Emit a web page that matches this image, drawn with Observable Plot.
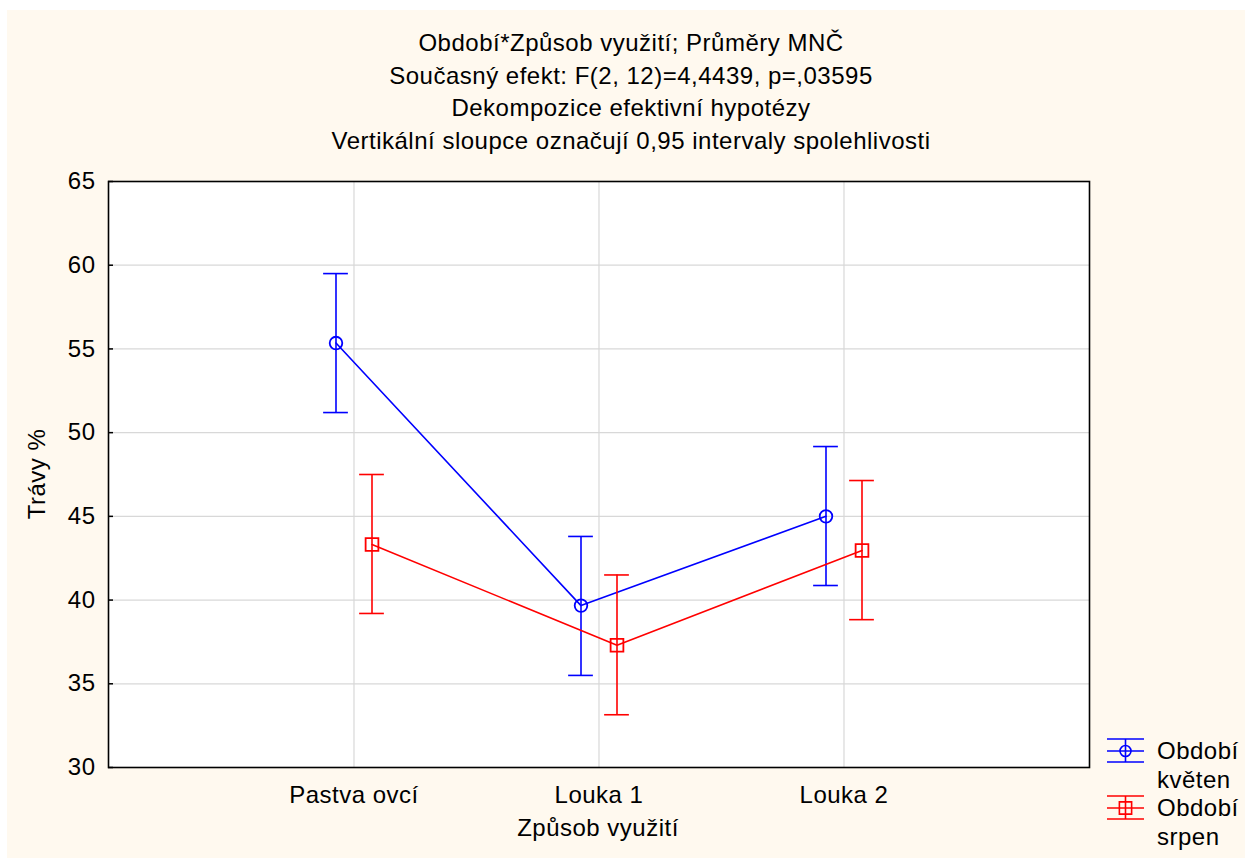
<!DOCTYPE html>
<html><head><meta charset="utf-8">
<script src="https://cdn.jsdelivr.net/npm/d3@7"></script>
<script src="https://cdn.jsdelivr.net/npm/@observablehq/plot@0.6"></script>
<style>
body{margin:0;background:#fff;width:1245px;height:858px;overflow:hidden;position:relative;font-family:"Liberation Sans",Arial,sans-serif;color:#000;letter-spacing:0.5px;}
#bg{position:absolute;left:7px;top:10px;width:1238px;height:848px;background:#fff9ef;}
#title{position:absolute;left:0;top:27px;width:1262px;text-align:center;font-size:24px;line-height:32.7px;}
#chart{position:absolute;left:0;top:160px;}
#ylab{position:absolute;left:37px;top:474px;font-size:24px;white-space:nowrap;transform:translate(-50%,-50%) rotate(-90deg);}
#xlab{position:absolute;left:598px;top:814px;font-size:24px;white-space:nowrap;transform:translateX(-50%);line-height:28px;}
#legsym{position:absolute;left:1104px;top:730px;}
#legtxt{position:absolute;left:1157px;top:737px;font-size:24px;line-height:28.7px;}
</style></head><body>
<div id="bg"></div>
<div id="title"></div>
<div id="chart"></div>
<div id="ylab"></div>
<div id="xlab"></div>
<div id="legsym"></div>
<div id="legtxt"></div>
<script>
const titleLines = ["Období*Způsob využití; Průměry MNČ","Současný efekt: F(2, 12)=4,4439, p=,03595","Dekompozice efektivní hypotézy","Vertikální sloupce označují 0,95 intervaly spolehlivosti"];
const xLabel = "Způsob využití";
const yLabel = "Trávy %";
const categories = ["Pastva ovcí","Louka 1","Louka 2"];
const seriesNames = ["Období květen","Období srpen"];
const legendLines = [["Období","květen"],["Období","srpen"]];
const kvetenMean = [55.35, 39.67, 45.0];
const kvetenLow  = [51.2, 35.5, 40.87];
const kvetenHigh = [59.5, 43.8, 49.17];
const srpenMean = [43.32, 37.3, 42.96];
const srpenLow  = [39.2, 33.15, 38.83];
const srpenHigh = [47.5, 41.5, 47.14];
const yTicks = [30,35,40,45,50,55,60,65];

const rows = (name, m, lo, hi) => categories.map((c,i)=>({cat:c, series:name, mean:m[i], lo:lo[i], hi:hi[i]}));
const data = [
  rows(seriesNames[0], kvetenMean, kvetenLow, kvetenHigh),
  rows(seriesNames[1], srpenMean, srpenLow, srpenHigh)
];
const styles = [
  {color:"#0000ff", dx:-18, symbol:"circle", r:6.3},
  {color:"#ff0000", dx:18, symbol:"square", r:7.2}
];

const W = 1245, H = 698;
const mL = 108, mR = 156, mT = 21, mB = 91;
const step = (W - mL - mR) / 4;
const capInset = (step - 25) / 2;

const seriesMarks = data.flatMap((d, k) => {
  const s = styles[k];
  return [
    Plot.line(d, {x:"cat", y:"mean", stroke:s.color, strokeWidth:1.6, dx:s.dx}),
    Plot.ruleX(d, {x:"cat", y1:"lo", y2:"hi", stroke:s.color, strokeWidth:1.6, dx:s.dx}),
    Plot.tickY(d, {x:"cat", y:"hi", stroke:s.color, strokeWidth:1.6, dx:s.dx, insetLeft:capInset, insetRight:capInset}),
    Plot.tickY(d, {x:"cat", y:"lo", stroke:s.color, strokeWidth:1.6, dx:s.dx, insetLeft:capInset, insetRight:capInset}),
    Plot.dot(d, {x:"cat", y:"mean", stroke:s.color, fill:"none", strokeWidth:1.8, symbol:s.symbol, r:s.r, dx:s.dx})
  ];
});

const chart = Plot.plot({
  width: W, height: H,
  marginLeft: mL, marginRight: mR, marginTop: mT, marginBottom: mB,
  style: {fontSize:"24px", fontFamily:"'Liberation Sans', Arial, sans-serif", background:"transparent", color:"#000", letterSpacing:"0.5px"},
  x: {type:"band", domain: categories, paddingInner: 0, paddingOuter: 0.5, label: null},
  y: {domain: [30, 65], label: null},
  marks: [
    Plot.frame({fill:"white", stroke:null}),
    Plot.gridY(yTicks, {stroke:"#d8d8d8", strokeOpacity:1, strokeWidth:1.2}),
    Plot.gridX({stroke:"#d8d8d8", strokeOpacity:1, strokeWidth:1.2}),
    ...seriesMarks,
    Plot.axisY(yTicks, {tickSize:0, tickPadding:13, fontSize:24, label:null}),
    Plot.axisY(yTicks, {tickSize:5, dx:5, tickFormat:() => "", label:null, strokeWidth:1.5}),
    Plot.axisX({tickSize:0, tickPadding:18, fontSize:24, label:null}),
    Plot.frame({stroke:"#000", strokeWidth:1.6})
  ]
});
document.getElementById("chart").appendChild(chart);

document.getElementById("title").innerHTML = titleLines.join("<br>");
document.getElementById("xlab").textContent = xLabel;
document.getElementById("ylab").textContent = yLabel;
document.getElementById("legtxt").innerHTML = legendLines.map(l => l.join("<br>")).join("<br>");

// legend symbols (HTML-side key, not chart data)
const lsvg = d3.select("#legsym").append("svg").attr("width", 44).attr("height", 100);
styles.forEach((s, k) => {
  const g = lsvg.append("g").attr("transform", `translate(0,${k*57})`).attr("stroke", s.color).attr("stroke-width", 1.6).attr("fill", "none");
  [9, 21, 32].forEach(y => g.append("line").attr("x1", 3).attr("x2", 40).attr("y1", y).attr("y2", y));
  g.append("line").attr("x1", 21.5).attr("x2", 21.5).attr("y1", 9).attr("y2", 32);
  g.append("path").attr("transform", "translate(21.5,21)").attr("d", d3.symbol(s.symbol === "circle" ? d3.symbolCircle : d3.symbolSquare, s.symbol === "circle" ? Math.PI*30 : 150)());
});
</script>
</body></html>
